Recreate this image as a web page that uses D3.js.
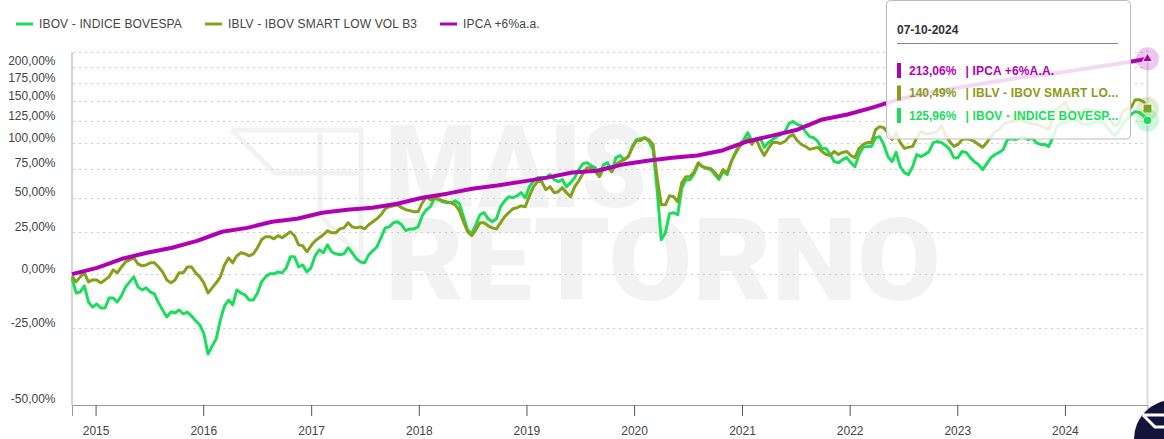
<!DOCTYPE html>
<html>
<head>
<meta charset="utf-8">
<script src="https://cdn.jsdelivr.net/npm/d3@7"></script>
<style>
  html, body { margin: 0; padding: 0; background: #fff; overflow: hidden; }
  svg { display: block; font-family: "Liberation Sans", Arial, sans-serif; }
</style>
</head>
<body>
<script>
// accumulated return in %, one reading every two weeks or so
const ibov = [
  -2, -9.5, -9, -6, -13.7, -16, -14.6, -16.4, -16.4, -11.9, -11.9, -13.7, -10.9, -6.5, -4, -1.4, -6.5, -8, -7, -9, -9.9,
  -14.1, -17.3, -20.3, -18.2, -18.6, -17.3, -19, -18.2, -19.9, -21.9, -23.5, -27, -34.5, -31.7, -29, -21.5, -15.5, -12.8, -15, -8, -9.5,
  -10.4, -12.8, -12.8, -9.5, -4, -1.4, 0.2, 0.2, 1.2, 0.7, 3.4, 9.6, 9.6, 3.9, 5, 1.2, 3.4, 10.2, 13.8, 12, 16.8, 12.6, 11.4, 10.8, 11.4,
  15, 12, 8.5, 6.7, 6.2, 10.8, 13.2, 15.6, 21.3, 27.8, 28.5, 31.3, 32, 29.9, 25.9, 27.1,
  27.1, 28.5, 36.3, 40.7, 43, 49.9, 48.3, 46.7, 45.9, 45.9, 47.5, 45.2, 35.6, 26.5, 23.9, 29.9, 37, 38.5, 34.1, 32, 34.1, 43, 47.5, 50.7,
  49.9, 51.5, 54, 49.9, 59, 64, 66.8, 66.8, 66.8, 69.5, 65, 63.3, 65, 59, 62.4, 66.8,
  74, 79.6, 80.5, 77.7, 75.8, 69.5, 78.7, 80.5, 72.2, 85.4, 87.5, 83.4, 86.5, 96.8, 104, 105, 106, 102, 93.7, 56.4, 20, 24.5, 37.8, 38.5, 37,
  58, 65, 65, 70.4, 79.6, 76.8, 74.9, 74, 69.5, 65, 72.2, 69.5, 81.5, 90.6, 98.8, 104,
  111.6, 102, 104, 106, 95.8, 100.8, 104, 107.2, 109.5, 112.8, 122, 124.6, 121, 119.8, 112.8, 107.2, 106, 102, 94.7, 94.7, 88.5, 81.5, 80.5,
  83.4, 85.4, 80.5, 76.8, 88.5, 95.8, 96.8, 96.8, 106, 107.2, 98.8, 86.5, 81.5, 90.6, 76.8, 71.3,
  69.5, 76.8, 88.5, 86.5, 88.5, 91.6, 100.8, 102, 100.8, 97.8, 93.7, 85.4, 85.4, 91.6, 90.6, 85.4, 81.5, 78.7, 74, 79.6, 85.4, 88.5, 90.6,
  93.7, 104, 105, 104, 106, 107.2, 104, 106, 100.8, 98.8, 98.8, 96.8, 106, 118.5, 122, 123.4, 124.6, 127, 125.8, 122, 121, 122, 123.4,
  124.6, 123.4, 119.8, 112.8, 108.3, 112.8, 122, 127, 133, 136.6, 135.4, 131.8, 125.96
]

const iblv = [
  -1, -4, -1.4, 0.7, -4, -3, -3, -4.5, -3, -1.4, 2.3, 0.7, 3.9, 6.7, 7.9, 9, 5.6, 4.5, 5, 6.2, 6.2, 3.9, 1.2, -3, -4.5, -3, 0.7, 0.7, 3.9,
  3.9, 0.7, -1.4, -4.5, -9.5, -7, -4.5, -1.4, 5, 9, 6.2, 10.2, 12,
  11.4, 10.2, 11.4, 15, 20, 22, 22, 20.6, 22.6, 21.3, 23.2, 25.2, 22.6, 16.8, 16.2, 12.6, 16.2, 19.3, 21.3, 23.2, 25.9, 24.5, 24.5, 27.1,
  27.8, 31.3, 28.5, 27.8, 28.5, 27.1, 29.9, 32, 34.1, 37, 41.4, 43, 43.6, 44.4, 42.2, 40.7, 40,
  39.2, 39.2, 45.9, 50.7, 48.3, 49.1, 49.1, 47.5, 46.7, 45.9, 44.4, 40, 32, 25.2, 22.6, 26.5, 31.3, 31.3, 29.2, 27.8, 27.1, 31.3, 35.6,
  38.5, 41.4, 42.2, 43.6, 43, 51.5, 59, 63.3, 63.3, 56.4, 59, 54, 54.8, 58.1, 54, 50.7, 59,
  64, 70.4, 75.8, 75.8, 72.2, 67.6, 74.9, 75.8, 72.2, 78.7, 81.5, 83.4, 86.5, 95.8, 103, 103, 106, 104, 98.8, 66.8, 44.4, 44.4, 51.5, 50.7,
  46.7, 62.4, 67.6, 67.6, 72.2, 80.5, 76.8, 75.8, 74.9, 71.3, 66.8, 74, 71.3, 81.5, 89.6, 96.8, 100.8,
  105, 98.8, 105, 94.7, 87.5, 94.7, 100.8, 100.8, 99.8, 102, 107.2, 109.5, 103, 98.8, 96.8, 93.7, 94.7, 95.8, 91.6, 88.5, 87.5, 91.6, 88.5,
  90.6, 91.6, 87.5, 85.4, 94.7, 98.8, 100.8, 100.8, 115, 118.5, 117.3, 111.6, 104, 111.6, 100.8, 94.7,
  95.8, 96.8, 106, 112.8, 110.5, 110.5, 111.6, 112.8, 119.8, 108.3, 102, 96.8, 98.8, 104, 105, 104, 102, 98.8, 95.8, 100.8, 107.2, 112.8,
  115, 121, 123.4, 124.6, 125.8,
  127, 124.6, 123.4, 122, 121, 119.8, 117.3, 115, 128.5, 139, 144, 147.8, 139, 135.4, 134.2, 135.4, 139, 139, 137.8, 136.6, 134.2, 131.8,
  125.8, 119.8, 122, 136.6, 140.4, 141.6, 152, 152, 149.5, 140.49
]

const ipca = [
  0, 3.4, 8.5, 12, 15, 19.3, 25.2, 27.8, 32, 34.1, 38.5, 40.7, 42.2, 45.2, 49.9, 53.2, 57.3, 60, 63.3, 66.8, 71.3, 73, 78.7, 82.4, 85.4,
  87.5, 92.6, 102, 108.3, 115, 127, 133, 141.6, 152, 160, 166, 172, 178, 184, 188, 194, 200, 206, 213.06
]

const startDate = new Date(2014, 9, 13)
const endDate = new Date(2024, 9, 7)
const xTicks = [2015, 2016, 2017, 2018, 2019, 2020, 2021, 2022, 2023, 2024]
const yTicks = [-50, -25, 0, 25, 50, 75, 100, 125, 150, 175, 200]
const yGridTop = 225

const legendNames = ['IBOV - INDICE BOVESPA', 'IBLV - IBOV SMART LOW VOL B3', 'IPCA +6%a.a.']
const tipDate = '07-10-2024'
const tipValues = ['213,06%', '140,49%', '125,96%']
const tipNames = ['| IPCA +6%A.A.', '| IBLV - IBOV SMART LO...', '| IBOV - INDICE BOVESP...']

const green = '#1ade5b'
const olive = '#85a01a'
const purple = '#b100b4'

const width = 1164
const height = 439

const svg = d3.select('body').append('svg').attr('width', width).attr('height', height)

// x is time, y is a log scale of (100 + return)
const xScale = d3.scaleTime().domain([startDate, endDate]).range([72, 1147.5])
const yScale = d3.scaleLog().domain([50, 325]).range([405, 51.7])

const brFormat = d3.formatLocale({ decimal: ',', thousands: '.', grouping: [3], currency: ['', ''], minus: '-' }).format('.2f')

// watermark
const mark = svg.append('g').attr('fill', '#f2f2f2')
mark.append('path')
  .attr('d', 'M232,130 H361 V258 L320,215 V130 M232,130 L275,173 H361')
  .attr('fill', 'none')
  .attr('stroke', '#f2f2f2')
  .attr('stroke-width', 5)
mark.append('text')
  .attr('x', 385).attr('y', 207)
  .attr('textLength', 262).attr('lengthAdjust', 'spacingAndGlyphs')
  .style('font-family', 'Roboto').style('font-weight', 900).style('font-size', '115px')
  .text('MAIS')
mark.append('text')
  .attr('x', 385).attr('y', 300)
  .attr('textLength', 556).attr('lengthAdjust', 'spacingAndGlyphs')
  .style('font-family', 'Roboto').style('font-weight', 900).style('font-size', '115px')
  .text('RETORNO')

// grid
svg.append('g').selectAll('line')
  .data(yTicks.concat([yGridTop]))
  .enter()
  .append('line')
  .attr('x1', 73).attr('x2', 1147)
  .attr('y1', (d) => Math.round(yScale(100 + d)) + 0.5)
  .attr('y2', (d) => Math.round(yScale(100 + d)) + 0.5)
  .attr('stroke', '#ccc')
  .attr('stroke-dasharray', '2,4')

// axes
const xAxis = d3.axisBottom(xScale)
  .tickValues(xTicks.map((y) => new Date(y, 0, 1)))
  .tickFormat(d3.timeFormat('%Y'))
  .tickSize(11)
  .tickPadding(10)
const gx = svg.append('g').attr('transform', 'translate(0,405)').call(xAxis)
gx.select('.domain').attr('stroke', '#999')
gx.selectAll('.tick line').attr('stroke', '#555')
gx.selectAll('.tick text').attr('fill', '#444').style('font-size', '12px').style('font-family', '"Liberation Sans"')

const yAxis = d3.axisLeft(yScale)
  .tickValues(yTicks.map((d) => 100 + d))
  .tickFormat((d) => brFormat(d - 100) + '%')
  .tickSize(0)
  .tickPadding(16)
const gy = svg.append('g').attr('transform', 'translate(71.5,0)').call(yAxis)
gy.select('.domain').attr('stroke', '#aaa')
gy.selectAll('.tick text')
  .attr('fill', '#444')
  .attr('dy', '-0.17em')
  .style('font-size', '12px')
  .style('font-family', '"Liberation Sans"')

// series
const line = d3.line()
  .x((d) => xScale(d.date))
  .y((d) => yScale(100 + d.value))
const toPoints = (values) => values.map((v, i) => ({
  date: new Date(+startDate + (endDate - startDate) * i / (values.length - 1)),
  value: v
}))

const series = [
  { values: ibov, color: green, w: 3 },
  { values: iblv, color: olive, w: 3 },
  { values: ipca, color: purple, w: 4 }
]
svg.append('g').selectAll('path')
  .data(series)
  .enter()
  .append('path')
  .attr('d', (d) => line(toPoints(d.values)))
  .attr('fill', 'none')
  .attr('stroke', (d) => d.color)
  .attr('stroke-width', (d) => d.w)
  .attr('stroke-linejoin', 'round')

// legend
const legendX = [16, 205, 440]
const legendColors = [green, olive, purple]
const legend = svg.append('g').selectAll('g')
  .data(legendNames)
  .enter()
  .append('g')
  .attr('transform', (d, i) => 'translate(' + legendX[i] + ',24)')
legend.append('line')
  .attr('x2', 17)
  .attr('stroke', (d, i) => legendColors[i])
  .attr('stroke-width', 3)
legend.append('text')
  .attr('x', 23).attr('y', 4)
  .attr('fill', '#444')
  .style('font-size', '12px')
  .style('letter-spacing', '0.15px')
  .text((d) => d)

// crosshair at the last date
svg.append('line')
  .attr('x1', xScale(endDate)).attr('x2', xScale(endDate))
  .attr('y1', 50).attr('y2', 405)
  .attr('stroke', '#ddd')
  .attr('stroke-width', 2)

// tooltip
const tip = svg.append('g')
tip.append('rect')
  .attr('x', 886.5).attr('y', 0.5)
  .attr('width', 244).attr('height', 138.5)
  .attr('rx', 4)
  .attr('fill', 'rgba(255,255,255,0.85)')
  .attr('stroke', '#bbb')
  .attr('stroke-width', 1)
tip.append('text')
  .attr('x', 897).attr('y', 34)
  .attr('fill', '#333')
  .style('font-size', '12px').style('font-weight', 'bold')
  .text(tipDate)
tip.append('line')
  .attr('x1', 897).attr('x2', 1118)
  .attr('y1', 43.5).attr('y2', 43.5)
  .attr('stroke', '#888')

const tipColors = [purple, '#8a9c18', green]
const tipRows = tip.selectAll('g.row')
  .data(tipValues)
  .enter()
  .append('g')
  .attr('class', 'row')
  .attr('transform', (d, i) => 'translate(0,' + (70.5 + i * 22.5) + ')')
tipRows.append('rect')
  .attr('x', 897).attr('y', -7.5)
  .attr('width', 4).attr('height', 15)
  .attr('fill', (d, i) => tipColors[i])
tipRows.append('text')
  .attr('x', 909).attr('y', 4)
  .attr('fill', (d, i) => tipColors[i])
  .style('font-size', '12px').style('font-weight', 'bold')
  .text((d) => d)
tipRows.append('text')
  .attr('x', 965.5).attr('y', 4)
  .attr('fill', (d, i) => tipColors[i])
  .style('font-size', '12px').style('font-weight', 'bold')
  .style('letter-spacing', '0.15px')
  .text((d, i) => tipNames[i])

// hover markers
const lastMarks = [
  { value: ipca[ipca.length - 1], color: purple, shape: d3.symbolTriangle, size: 45 },
  { value: iblv[iblv.length - 1], color: olive, shape: d3.symbolSquare, size: 80 },
  { value: ibov[ibov.length - 1], color: green, shape: d3.symbolCircle, size: 60 }
]
const marks = svg.append('g').selectAll('g')
  .data(lastMarks)
  .enter()
  .append('g')
  .attr('transform', (d) => 'translate(' + xScale(endDate) + ',' + yScale(100 + d.value) + ')')
marks.append('circle')
  .attr('r', 11.5)
  .attr('fill', (d) => d.color)
  .attr('opacity', 0.22)
marks.append('path')
  .attr('d', (d) => d3.symbol().type(d.shape).size(d.size)())
  .attr('fill', (d) => d.color)
  .attr('stroke', '#fff')
  .attr('stroke-width', 1)

// corner badge
svg.append('circle').attr('cx', 1173).attr('cy', 439).attr('r', 39).attr('fill', '#14143a')
svg.append('path')
  .attr('d', 'M1143,415 H1164 M1143,415 L1155,427 H1164')
  .attr('fill', 'none')
  .attr('stroke', '#fff')
  .attr('stroke-width', 3)
</script>
</body>
</html>
